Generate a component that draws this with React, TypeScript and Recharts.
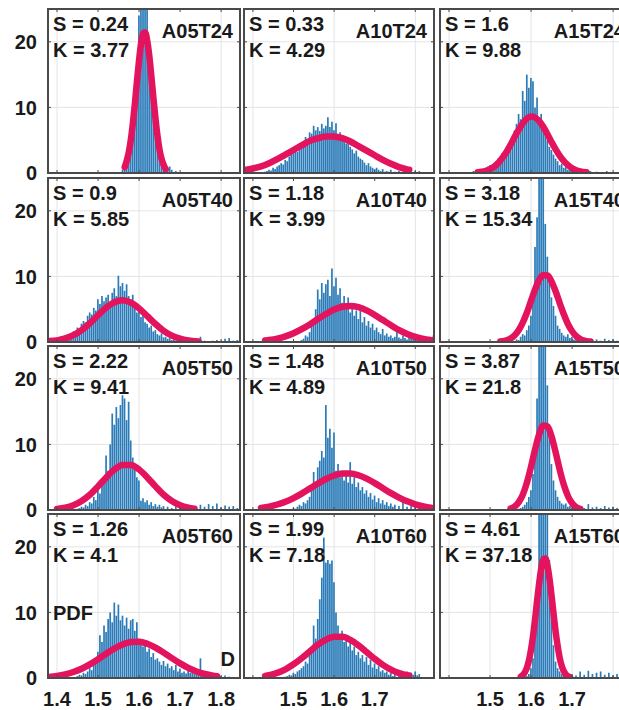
import { Bar, CartesianGrid, ComposedChart, Line, XAxis, YAxis } from "recharts";

// histogram bins are 0.005 wide, each list starts at its panel's start value
const BIN = 0.005;
const X_DOMAIN: [number, number] = [1.378, 1.846];
const Y_DOMAIN: [number, number] = [0, 25];

const a05t24Start = 1.56;
const a05t24Bins = [0.5, 1, 2, 3, 5, 8, 12, 17, 24, 26, 27, 25, 26, 18, 14, 9, 6, 4, 2.5, 1.5, 1, 1.5, 0.5, 1, 0.5, 0, 0.3];
const a05t24Curve = [
  [1.565, 0.9], [1.57, 1.9], [1.575, 3.2], [1.58, 5.1], [1.585, 7.7], [1.59, 10.7], [1.595, 14.1], [1.6, 17.2],
  [1.605, 19.8], [1.61, 21.3], [1.615, 21.4], [1.62, 20.1], [1.625, 17.8], [1.63, 14.7], [1.635, 11.4], [1.64, 8.3],
  [1.645, 5.6], [1.65, 3.5], [1.655, 2.1], [1.66, 1.2], [1.665, 0.6],
];

const a10t24Start = 1.43;
const a10t24Bins = [
  0.2, 0.3, 0.5, 0.4, 0.8, 0.6, 1.0, 1.2, 1.5, 1.3, 2.0, 1.8, 2.5, 2.8, 3.0, 3.6, 3.2, 4.2, 4.0, 4.8,
  5.5, 5.0, 6.2, 6.0, 7.2, 6.5, 7.0, 6.4, 7.5, 6.8, 7.2, 8.5, 7.0, 7.8, 6.5, 7.6, 5.8, 6.2, 5.0, 5.6,
  4.5, 4.8, 4.0, 3.6, 3.0, 3.4, 2.5, 2.2, 2.0, 1.6, 1.2, 1.5, 1.0, 0.8, 0.6, 0.8, 0.5, 0.3, 0.6, 0.2,
  0.3, 0.2, 0.5, 0.1, 0.2, 0, 0.3, 0, 0.1, 0, 0.6, 0, 0.2, 0, 0.3, 0, 0.3,
];
const a10t24Curve = [
  [1.38, 0.45], [1.4, 0.7], [1.42, 1.0], [1.44, 1.5], [1.46, 2.1], [1.48, 2.8], [1.5, 3.5], [1.52, 4.2],
  [1.54, 4.9], [1.56, 5.3], [1.58, 5.55], [1.6, 5.55], [1.62, 5.3], [1.64, 4.8], [1.66, 4.1], [1.68, 3.4],
  [1.7, 2.7], [1.72, 2.0], [1.74, 1.4], [1.76, 0.9], [1.78, 0.55], [1.785, 0.5],
];

const a15t24Start = 1.46;
const a15t24Bins = [
  0.3, 0.2, 0.5, 0.4, 0.6, 0.5, 0.8, 1.0, 1.2, 1.0, 1.5, 1.8, 2.2, 2.0, 3.0, 2.6, 3.8, 4.2, 5.0, 4.6,
  6.5, 7.5, 9.0, 8.2, 12.5, 11.0, 15.0, 13.0, 14.5, 14.0, 10.0, 11.5, 8.0, 9.0, 6.5, 6.0, 5.0, 4.0, 3.5, 2.8,
  2.2, 1.8, 1.2, 1.4, 0.8, 0.9, 0.5, 0.6, 0.3, 0.4, 0.2, 0, 0.3, 0, 0.2, 0, 0, 0.3, 0, 0,
  0.2, 0, 0, 0, 0, 0.3,
];
const a15t24Curve = [
  [1.47, 0.1], [1.48, 0.19], [1.49, 0.34], [1.5, 0.58], [1.51, 0.97], [1.52, 1.52], [1.53, 2.3], [1.54, 3.2],
  [1.55, 4.3], [1.56, 5.5], [1.57, 6.6], [1.58, 7.6], [1.59, 8.3], [1.6, 8.6], [1.61, 8.45], [1.62, 7.9],
  [1.63, 7.0], [1.64, 5.9], [1.65, 4.7], [1.66, 3.6], [1.67, 2.6], [1.68, 1.8], [1.69, 1.2], [1.7, 0.71],
  [1.71, 0.42], [1.72, 0.24], [1.735, 0.1],
];

const a05t40Start = 1.4;
const a05t40Bins = [
  0.2, 0.3, 0.5, 0.4, 0.8, 0.7, 1.0, 1.3, 1.6, 1.4, 2.2, 2.0, 2.8, 3.2, 3.0, 4.0, 4.5, 4.2, 5.2, 4.8,
  6.5, 5.8, 7.0, 6.2, 6.8, 7.2, 6.0, 7.5, 8.2, 7.0, 10.1, 8.5, 9.0, 7.8, 8.8, 7.0, 6.5, 7.2, 5.8, 4.5,
  5.0, 3.8, 4.2, 3.0, 2.8, 2.2, 2.5, 1.6, 1.8, 1.2, 1.0, 1.3, 0.7, 0.8, 0.5, 0.6, 0.3, 0.4, 0.2, 0.3,
  0.2, 0, 0.1, 0, 0.2, 0, 0.1, 0, 0.4, 0, 0.8, 0, 0.2, 0, 0.1, 0, 0.2, 0, 0.3, 0,
  0.2, 0, 0.5, 0, 0.6, 0, 0.2, 0, 0.3,
];
const a05t40Curve = [
  [1.38, 0.15], [1.4, 0.25], [1.42, 0.54], [1.44, 1.04], [1.46, 1.82], [1.48, 2.86], [1.5, 4.08], [1.52, 5.25],
  [1.54, 6.07], [1.56, 6.35], [1.58, 6.0], [1.6, 5.12], [1.62, 3.93], [1.64, 2.74], [1.66, 1.71], [1.68, 0.97],
  [1.7, 0.5], [1.72, 0.23], [1.745, 0.08],
];

const a10t40Start = 1.52;
const a10t40Bins = [
  0.3, 0.5, 1.0, 0.8, 1.5, 2.5, 3.5, 5.0, 8.0, 6.5, 9.0, 7.5, 8.8, 9.5, 7.0, 11.2, 8.5, 9.8, 7.2, 8.2,
  6.0, 7.0, 5.2, 6.8, 4.5, 5.5, 4.0, 4.8, 3.5, 5.6, 3.0, 3.8, 2.5, 3.2, 2.2, 2.8, 1.8, 2.2, 1.5, 1.2,
  2.0, 1.0, 1.3, 0.8, 1.0, 0.6, 0.8, 1.8, 0.7, 0.5, 1.0, 0.6, 0.4, 0.8, 0.5, 1.2, 0.6, 1.0, 0.5, 0.9,
  0.4, 0.7, 0.3, 0.8, 0.5, 1.0,
];
const a10t40Curve = [
  [1.43, 0.22], [1.44, 0.3], [1.46, 0.52], [1.48, 0.86], [1.5, 1.33], [1.52, 1.95], [1.54, 2.68], [1.56, 3.5],
  [1.58, 4.27], [1.6, 4.95], [1.62, 5.37], [1.64, 5.5], [1.66, 5.3], [1.68, 4.83], [1.7, 4.12], [1.72, 3.34],
  [1.74, 2.55], [1.76, 1.81], [1.78, 1.23], [1.8, 0.78], [1.82, 0.47], [1.84, 0.27], [1.845, 0.24],
];

const a15t40Start = 1.54;
const a15t40Bins = [
  0.2, 0, 0.3, 0.2, 0, 0.4, 0.3, 0.8, 1.2, 1.0, 1.8, 2.5,
  4.0, 8.0, 14.5, 19.0, 27, 27, 26, 18, 13, 10,
  6.8, 5.5, 4.0, 2.5, 2.0, 1.4, 1.0, 0.8, 1.2, 0.6,
  0.8, 0.4, 0.5, 0.3, 0.6, 0, 0.2, 0, 0.5, 0,
  0.3, 0, 0.4, 0, 0.2, 0, 0.5, 0, 0.3, 0,
  0.4, 0, 0.2, 0, 0.3, 0, 0.2,
];
const a15t40Curve = [
  [1.525, 0.07], [1.53, 0.11], [1.54, 0.25], [1.55, 0.52], [1.56, 1.02], [1.57, 1.83], [1.58, 3.0], [1.59, 4.5],
  [1.6, 6.3], [1.61, 8.05], [1.62, 9.5], [1.63, 10.2], [1.64, 10.15], [1.65, 9.2], [1.66, 7.7], [1.67, 5.9],
  [1.68, 4.2], [1.69, 2.7], [1.7, 1.64], [1.71, 0.9], [1.72, 0.45], [1.73, 0.21], [1.74, 0.09], [1.745, 0.06],
];

const a05t50Start = 1.45;
const a05t50Bins = [
  0.2, 0.3, 0.5, 0.4, 0.8, 0.6, 1.2, 1.0, 2.0, 1.5,
  3.0, 2.5, 4.5, 4.0, 8.3, 6.0, 10.0, 14.7, 13.0, 15.7,
  14.0, 16.0, 17.5, 17.0, 13.7, 16.5, 10.6, 8.0, 6.5, 5.0,
  4.5, 1.4, 1.8, 1.2, 1.5, 0.8, 1.2, 0.6, 0.9, 0.5,
  0.8, 0.4, 0.6, 0, 0.5, 0, 0.3, 0, 0.6, 0,
  0.4, 0, 0.5, 0, 0.3, 0, 0.6, 0, 0.4, 0,
  0.8, 0, 0.5, 0, 0.9, 0, 0.6, 0, 1.0, 0,
  0.4, 0, 0.7, 0, 0.5, 0, 0.6, 0, 0.3,
];
const a05t50Curve = [
  [1.4, 0.14], [1.42, 0.34], [1.44, 0.72], [1.46, 1.38], [1.48, 2.33], [1.5, 3.6], [1.52, 4.97], [1.54, 6.17],
  [1.56, 6.86], [1.58, 6.86], [1.6, 6.17], [1.62, 4.97], [1.64, 3.6], [1.66, 2.33], [1.68, 1.38], [1.7, 0.72],
  [1.72, 0.34], [1.735, 0.18],
];

const a10t50Start = 1.5;
const a10t50Bins = [
  0.3, 0.2, 0.5, 0.8, 0.6, 1.2, 1.0, 1.5, 2.0, 3.0,
  5.8, 4.0, 6.5, 7.5, 9.0, 8.0, 16.0, 11.0, 12.4, 9.5,
  11.8, 6.0, 7.0, 5.0, 5.8, 4.5, 6.0, 4.2, 7.3, 4.0,
  5.0, 3.5, 4.2, 3.0, 3.5, 2.5, 3.0, 2.0, 2.6, 1.6,
  2.2, 1.2, 1.8, 1.0, 1.5, 0.8, 1.2, 0.6, 1.0, 0.5,
  0.8, 0, 0.6, 0, 1.5, 0, 0.5, 0, 0.8, 0,
  0.6, 0, 0.4, 0, 1.0, 0, 0.5, 0, 0.8, 0.3,
];
const a10t50Curve = [
  [1.42, 0.31], [1.44, 0.52], [1.46, 0.84], [1.48, 1.26], [1.5, 1.82], [1.52, 2.5], [1.54, 3.26], [1.56, 4.03],
  [1.58, 4.73], [1.6, 5.26], [1.62, 5.55], [1.64, 5.57], [1.66, 5.3], [1.68, 4.79], [1.7, 4.1], [1.72, 3.33],
  [1.74, 2.57], [1.76, 1.9], [1.78, 1.32], [1.8, 0.87], [1.82, 0.54], [1.84, 0.32], [1.845, 0.28],
];

const a15t50Start = 1.55;
const a15t50Bins = [
  0.2, 0, 0.3, 0, 0.2, 0.3, 0.5, 0.8, 1.2, 2.0,
  3.0, 5.5, 10, 17, 27, 27, 27, 26, 19, 12,
  7, 4.5, 3.0, 2.0, 1.4, 1.0, 0.8, 1.0, 0.5, 0.6,
  0.3, 0, 0.4, 0, 0.6, 0, 0.3, 0, 0.9, 0,
  0.4, 0, 0.5, 0, 0.3, 0, 0.6, 0, 0.4, 0,
  0.5, 0, 0.3, 0, 0.4, 0, 0.5,
];
const a15t50Curve = [
  [1.55, 0.21], [1.56, 0.53], [1.57, 1.2], [1.58, 2.38], [1.59, 4.22], [1.6, 6.63], [1.61, 9.3], [1.62, 11.6],
  [1.63, 12.9], [1.64, 12.75], [1.65, 11.2], [1.66, 8.75], [1.67, 6.1], [1.68, 3.8], [1.69, 2.1], [1.7, 1.04],
  [1.71, 0.45], [1.72, 0.17],
];

const a05t60Start = 1.45;
const a05t60Bins = [
  0.3, 0.5, 0.4, 0.8, 0.6, 1.0, 1.5, 1.2, 2.0, 2.5,
  4.0, 6.5, 5.5, 8.0, 7.0, 9.0, 10.0, 8.5, 11.5, 9.5,
  11.2, 8.8, 9.5, 8.0, 9.2, 7.5, 8.8, 9.0, 7.2, 8.5,
  6.0, 5.2, 4.8, 5.8, 4.0, 4.5, 3.2, 3.8, 2.8, 3.0,
  2.5, 2.0, 2.6, 1.8, 2.2, 1.5, 1.8, 1.2, 2.0, 1.0,
  1.4, 0.8, 1.0, 0.7, 1.5, 0.8, 1.2, 0.6, 1.0, 0.5,
  3.0, 0.4, 0.8, 0.5, 0.6, 0, 0.4, 0, 0.5, 0,
  0.3, 0, 0.4, 0, 0.2,
];
const a05t60Curve = [
  [1.38, 0.17], [1.4, 0.31], [1.42, 0.55], [1.44, 0.92], [1.46, 1.42], [1.48, 2.08], [1.5, 2.87], [1.52, 3.7],
  [1.54, 4.5], [1.56, 5.12], [1.58, 5.49], [1.6, 5.52], [1.62, 5.22], [1.64, 4.64], [1.66, 3.87], [1.68, 3.03],
  [1.7, 2.23], [1.72, 1.54], [1.74, 1.0], [1.76, 0.61], [1.78, 0.35], [1.79, 0.26],
];

const a10t60Start = 1.48;
const a10t60Bins = [
  0.2, 0.3, 0.5, 0.4, 0.8, 0.6, 1.0, 1.2, 1.5, 1.8,
  2.5, 2.2, 3.5, 4.5, 8.0, 6.0, 9.0, 12.0, 15.3, 21.4,
  17.6, 18.0, 17.4, 17.9, 14.6, 10.0, 8.0, 6.5, 7.2, 5.5,
  6.2, 4.8, 5.5, 4.2, 4.8, 3.5, 4.0, 3.0, 3.5, 2.5,
  3.2, 2.0, 2.8, 1.6, 2.2, 1.4, 1.8, 1.0, 1.2, 0.8,
  1.0, 0.5, 0.8, 0.3, 0.6, 0, 0.4, 0, 0.5, 0,
  1.0, 0.6, 0.8, 0.5, 1.0, 0.4, 0.6,
];
const a10t60Curve = [
  [1.43, 0.32], [1.44, 0.44], [1.46, 0.79], [1.48, 1.33], [1.5, 2.09], [1.52, 3.02], [1.54, 4.05], [1.56, 5.07],
  [1.58, 5.86], [1.6, 6.3], [1.62, 6.28], [1.64, 5.81], [1.66, 4.97], [1.68, 3.96], [1.7, 2.91], [1.72, 2.0],
  [1.74, 1.28], [1.76, 0.74], [1.78, 0.41], [1.785, 0.37],
];

const a15t60Start = 1.59;
const a15t60Bins = [
  0.3, 0.6, 1.5, 3.0, 6.0, 14, 27, 27, 27, 27,
  27, 18, 10, 5, 2.5, 1.5, 1.0, 0.6, 0.4, 0,
  0.3, 0, 0.6, 0, 0.4, 0, 1.0, 0, 0.5, 0,
  1.1, 0, 0.6, 0, 0.8, 0, 1.0, 0, 0.5, 0,
  0.8, 0, 0.4, 0, 0.6, 0, 0.3,
];
const a15t60Curve = [
  [1.575, 0.22], [1.58, 0.45], [1.585, 0.88], [1.59, 1.6], [1.595, 2.74], [1.6, 4.38], [1.605, 6.5], [1.61, 9.1],
  [1.615, 12.0], [1.62, 14.6], [1.625, 16.8], [1.63, 18.1], [1.635, 18.2], [1.64, 17.1], [1.645, 15.1], [1.65, 12.5],
  [1.655, 9.7], [1.66, 7.0], [1.665, 4.8], [1.67, 3.0], [1.675, 1.8], [1.68, 1.0], [1.685, 0.52], [1.69, 0.26],
  [1.695, 0.12],
];

const panels = [
  { name: "A05T24", s: "0.24", k: "3.77", start: a05t24Start, bins: a05t24Bins, curve: a05t24Curve },
  { name: "A10T24", s: "0.33", k: "4.29", start: a10t24Start, bins: a10t24Bins, curve: a10t24Curve },
  { name: "A15T24", s: "1.6", k: "9.88", start: a15t24Start, bins: a15t24Bins, curve: a15t24Curve },
  { name: "A05T40", s: "0.9", k: "5.85", start: a05t40Start, bins: a05t40Bins, curve: a05t40Curve },
  { name: "A10T40", s: "1.18", k: "3.99", start: a10t40Start, bins: a10t40Bins, curve: a10t40Curve },
  { name: "A15T40", s: "3.18", k: "15.34", start: a15t40Start, bins: a15t40Bins, curve: a15t40Curve },
  { name: "A05T50", s: "2.22", k: "9.41", start: a05t50Start, bins: a05t50Bins, curve: a05t50Curve },
  { name: "A10T50", s: "1.48", k: "4.89", start: a10t50Start, bins: a10t50Bins, curve: a10t50Curve },
  { name: "A15T50", s: "3.87", k: "21.8", start: a15t50Start, bins: a15t50Bins, curve: a15t50Curve },
  { name: "A05T60", s: "1.26", k: "4.1", start: a05t60Start, bins: a05t60Bins, curve: a05t60Curve },
  { name: "A10T60", s: "1.99", k: "7.18", start: a10t60Start, bins: a10t60Bins, curve: a10t60Curve },
  { name: "A15T60", s: "4.61", k: "37.18", start: a15t60Start, bins: a15t60Bins, curve: a15t60Curve },
];

const yTicks = [0, 10, 20];
const xTicksFirst = [1.4, 1.5, 1.6, 1.7, 1.8];
const xTicksOther = [1.5, 1.6, 1.7];
const frameTicksX = [1.4, 1.5, 1.6, 1.7, 1.8];
const frameTicksY = [10, 20];

// plot-area boxes in page pixels
const PLOT_LEFT = [48, 244, 440];
const PLOT_W = [192, 190, 192];
const PLOT_TOP = [9, 178, 346, 514];
const PLOT_H = 164;
const PAD_BOTTOM = 12; // room for the "0" label under the frame

const FONT = "'Liberation Sans', Arial, sans-serif";
const INK = "#1a1a1a";
const BAR = "#2a7bb8";
const FIT = "#e3145d";

function buildRows(start: number, bins: number[], curve: number[][]) {
  const rows = new Map<number, { x: number; bin?: number; fit?: number }>();
  bins.forEach((v, i) => {
    const key = Math.round((start + i * BIN) * 1000);
    rows.set(key, { x: key / 1000, bin: v });
  });
  curve.forEach(([x, y]) => {
    const key = Math.round(x * 1000);
    const row = rows.get(key) ?? { x: key / 1000 };
    row.fit = y;
    rows.set(key, row);
  });
  return [...rows.values()].sort((a, b) => a.x - b.x);
}

function Panel({ index }: { index: number }) {
  const p = panels[index];
  const row = Math.floor(index / 3);
  const col = index % 3;
  const showY = col === 0;
  const showX = row === 3;
  const yW = showY ? 48 : 0;
  const xH = showX ? 32 : 0;
  const padB = showX ? 0 : PAD_BOTTOM;
  const w = PLOT_W[col];
  const h = PLOT_H;
  const data = buildRows(p.start, p.bins, p.curve);
  const gridX = row === 3 ? [1.4, 1.5, 1.6, 1.7, 1.8] : [1.4, 1.6, 1.8];
  const tickStyle = { fontFamily: FONT, fontWeight: 700, fontSize: 20, fill: INK };
  const px = (v: number) => ((v - X_DOMAIN[0]) / (X_DOMAIN[1] - X_DOMAIN[0])) * w;
  const py = (v: number) => h - (v / Y_DOMAIN[1]) * h;

  return (
    <div style={{ position: "absolute", left: PLOT_LEFT[col] - yW, top: PLOT_TOP[row], width: w + yW, height: h + xH + padB }}>
      <ComposedChart
        width={w + yW}
        height={h + xH + padB}
        data={data}
        margin={{ top: 0, right: 0, bottom: padB, left: 0 }}
      >
        <CartesianGrid stroke="#e4e4e4" verticalValues={gridX} horizontalValues={[10, 20]} />
        <XAxis
          type="number"
          dataKey="x"
          domain={X_DOMAIN}
          allowDataOverflow
          hide={!showX}
          height={xH}
          ticks={col === 0 ? xTicksFirst : xTicksOther}
          interval={0}
          tickFormatter={(v: number) => v.toFixed(1)}
          axisLine={false}
          tickLine={false}
          tickSize={0}
          tickMargin={14}
          tick={tickStyle}
        />
        <YAxis
          type="number"
          domain={Y_DOMAIN}
          allowDataOverflow
          hide={!showY}
          width={yW}
          ticks={yTicks}
          interval={0}
          axisLine={false}
          tickLine={false}
          tickSize={0}
          tickMargin={11}
          tick={tickStyle}
        />
        <Bar dataKey="bin" barSize={1.7} fill={BAR} isAnimationActive={false} />
        <Line
          dataKey="fit"
          type="monotone"
          stroke={FIT}
          strokeWidth={6.5}
          strokeLinecap="round"
          dot={false}
          activeDot={false}
          connectNulls
          isAnimationActive={false}
        />
      </ComposedChart>
      <div
        style={{
          position: "absolute",
          left: yW - 1,
          top: -1,
          width: w + 2,
          height: h + 2,
          border: "2px solid #4a4a4a",
          boxSizing: "border-box",
          pointerEvents: "none",
        }}
      />
      <svg
        width={w}
        height={h}
        style={{ position: "absolute", left: yW, top: 0, overflow: "visible", pointerEvents: "none" }}
        fontFamily={FONT}
        fontWeight={700}
        fontSize={20}
        fill={INK}
      >
        {frameTicksX.map((t) => (
          <g key={`x${t}`} stroke="#4a4a4a" strokeWidth={1}>
            <line x1={px(t)} x2={px(t)} y1={h} y2={h - 3} />
            <line x1={px(t)} x2={px(t)} y1={0} y2={3} />
          </g>
        ))}
        {frameTicksY.map((t) => (
          <g key={`y${t}`} stroke="#4a4a4a" strokeWidth={1}>
            <line x1={0} x2={3} y1={py(t)} y2={py(t)} />
            <line x1={w} x2={w - 3} y1={py(t)} y2={py(t)} />
          </g>
        ))}
        <text x={5} y={22}>{`S = ${p.s}`}</text>
        <text x={5} y={47.5}>{`K = ${p.k}`}</text>
        <text x={w - 7} y={28.5} textAnchor="end">{p.name}</text>
        {index === 9 && (
          <>
            <text x={5} y={106}>PDF</text>
            <text x={187} y={152} textAnchor="end">D</text>
          </>
        )}
      </svg>
    </div>
  );
}

export default function App() {
  return (
    <div style={{ position: "absolute", left: 0, top: 0, width: 619, height: 710, overflow: "hidden", background: "#fff" }}>
      {panels.map((_, i) => (
        <Panel key={i} index={i} />
      ))}
    </div>
  );
}
